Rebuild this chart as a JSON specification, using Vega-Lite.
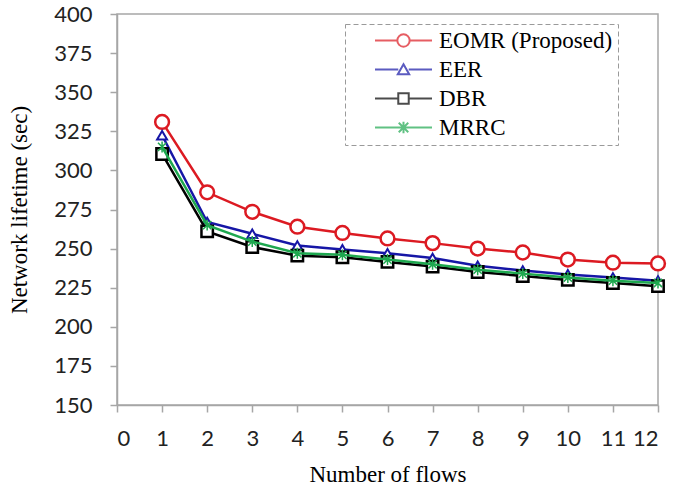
{
  "$schema": "https://vega.github.io/schema/vega-lite/v6.json",
  "autosize": "none",
  "width": 541,
  "height": 391,
  "padding": {"left": 117, "top": 14, "right": 22, "bottom": 84},
  "background": "white",
  "config": {
    "view": {"stroke": "#a6a6a6", "strokeWidth": 1.5},
    "legend": {"strokeDash": [5, 3]},
    "axis": {
      "grid": false,
      "domainColor": "#a6a6a6",
      "domainWidth": 1.5,
      "tickColor": "#a6a6a6",
      "tickWidth": 1.5,
      "tickSize": 7,
      "labelFont": "Lato",
      "labelFontSize": 22,
      "labelColor": "#222222",
      "titleFont": "Liberation Serif",
      "titleFontSize": 23,
      "titleFontWeight": "normal",
      "titleColor": "#000000"
    }
  },
  "data": {
    "values": [
      {"flows": 1, "series": "EOMR (Proposed)", "lifetime": 331},
      {"flows": 2, "series": "EOMR (Proposed)", "lifetime": 286},
      {"flows": 3, "series": "EOMR (Proposed)", "lifetime": 273.5},
      {"flows": 4, "series": "EOMR (Proposed)", "lifetime": 264},
      {"flows": 5, "series": "EOMR (Proposed)", "lifetime": 260},
      {"flows": 6, "series": "EOMR (Proposed)", "lifetime": 256.5},
      {"flows": 7, "series": "EOMR (Proposed)", "lifetime": 253.5},
      {"flows": 8, "series": "EOMR (Proposed)", "lifetime": 250},
      {"flows": 9, "series": "EOMR (Proposed)", "lifetime": 247.5},
      {"flows": 10, "series": "EOMR (Proposed)", "lifetime": 243},
      {"flows": 11, "series": "EOMR (Proposed)", "lifetime": 241},
      {"flows": 12, "series": "EOMR (Proposed)", "lifetime": 240.5},
      {"flows": 1, "series": "EER", "lifetime": 322.5},
      {"flows": 2, "series": "EER", "lifetime": 267},
      {"flows": 3, "series": "EER", "lifetime": 259.5},
      {"flows": 4, "series": "EER", "lifetime": 252},
      {"flows": 5, "series": "EER", "lifetime": 249.5},
      {"flows": 6, "series": "EER", "lifetime": 247},
      {"flows": 7, "series": "EER", "lifetime": 244},
      {"flows": 8, "series": "EER", "lifetime": 239},
      {"flows": 9, "series": "EER", "lifetime": 236},
      {"flows": 10, "series": "EER", "lifetime": 233.5},
      {"flows": 11, "series": "EER", "lifetime": 231.5},
      {"flows": 12, "series": "EER", "lifetime": 229.5},
      {"flows": 1, "series": "DBR", "lifetime": 310.5},
      {"flows": 2, "series": "DBR", "lifetime": 261},
      {"flows": 3, "series": "DBR", "lifetime": 251},
      {"flows": 4, "series": "DBR", "lifetime": 245.5},
      {"flows": 5, "series": "DBR", "lifetime": 244.5},
      {"flows": 6, "series": "DBR", "lifetime": 241.5},
      {"flows": 7, "series": "DBR", "lifetime": 238.5},
      {"flows": 8, "series": "DBR", "lifetime": 235},
      {"flows": 9, "series": "DBR", "lifetime": 232.5},
      {"flows": 10, "series": "DBR", "lifetime": 230},
      {"flows": 11, "series": "DBR", "lifetime": 228},
      {"flows": 12, "series": "DBR", "lifetime": 226},
      {"flows": 1, "series": "MRRC", "lifetime": 315},
      {"flows": 2, "series": "MRRC", "lifetime": 265},
      {"flows": 3, "series": "MRRC", "lifetime": 254.5},
      {"flows": 4, "series": "MRRC", "lifetime": 247},
      {"flows": 5, "series": "MRRC", "lifetime": 246},
      {"flows": 6, "series": "MRRC", "lifetime": 243},
      {"flows": 7, "series": "MRRC", "lifetime": 240},
      {"flows": 8, "series": "MRRC", "lifetime": 236.5},
      {"flows": 9, "series": "MRRC", "lifetime": 234},
      {"flows": 10, "series": "MRRC", "lifetime": 231.5},
      {"flows": 11, "series": "MRRC", "lifetime": 229.5},
      {"flows": 12, "series": "MRRC", "lifetime": 228}
    ]
  },
  "encoding": {
    "x": {
      "field": "flows", "type": "quantitative",
      "scale": {"domain": [0, 12], "nice": false},
      "axis": {"values": [0,1,2,3,4,5,6,7,8,9,10,11,12], "labelPadding": 16, "title": "Number of flows", "titlePadding": 14}
    },
    "y": {
      "field": "lifetime", "type": "quantitative",
      "scale": {"domain": [150, 400], "nice": false, "zero": false},
      "axis": {"values": [150,175,200,225,250,275,300,325,350,375,400], "labelPadding": 18, "title": "Network lifetime (sec)", "titlePadding": 22}
    }
  },
  "layer": [
    {
      "transform": [{"filter": "datum.series === 'EOMR (Proposed)'"}],
      "mark": {"type": "line", "color": "#dc1a22", "strokeWidth": 2.5,
        "point": {"shape": "circle", "filled": true, "fill": "white", "stroke": "#dc1a22", "strokeWidth": 2.5, "size": 190}}
    },
    {
      "transform": [{"filter": "datum.series === 'EER'"}],
      "mark": {"type": "line", "color": "#1616a6", "strokeWidth": 2.5,
        "point": {"shape": "triangle-up", "filled": true, "fill": "white", "stroke": "#1616a6", "strokeWidth": 2, "size": 100}}
    },
    {
      "transform": [{"filter": "datum.series === 'DBR'"}],
      "mark": {"type": "line", "color": "#000000", "strokeWidth": 2.5,
        "point": {"shape": "square", "filled": true, "fill": "white", "stroke": "#000000", "strokeWidth": 2.5, "size": 130}}
    },
    {
      "transform": [{"filter": "datum.series === 'MRRC'"}],
      "mark": {"type": "line", "color": "#1ea84f", "strokeWidth": 2.5,
        "point": {"shape": "M0,-1V1M-0.75,-0.75L0.75,0.75M-0.75,0.75L0.75,-0.75", "filled": false, "stroke": "#1ea84f", "strokeWidth": 1.5, "size": 120}}
    },
    {
      "mark": {"type": "point", "size": 0, "filled": false, "strokeWidth": 2},
      "encoding": {
        "color": {
          "field": "series", "type": "nominal",
          "scale": {"domain": ["EOMR (Proposed)", "EER", "DBR", "MRRC"], "range": ["#dc1a22", "#1616a6", "#000000", "#1ea84f"]},
          "legend": {
            "title": null,
            "orient": "none",
            "legendX": 228,
            "legendY": 10,
            "direction": "vertical",
            "fillColor": "white",
            "strokeColor": "#9a9a9a",
            "padding": 5,
            "rowPadding": 5,
            "symbolSize": 361,
            "symbolStrokeWidth": 2,
            "symbolOffset": 42,
            "labelOffset": 24,
            "labelFont": "Liberation Serif",
            "labelFontSize": 23,
            "labelColor": "#000000",
            "labelLimit": 400,
            "encode": {"legend": {"update": {"strokeDash": {"value": [5, 3]}, "strokeWidth": {"value": 1.5}}}}
          }
        },
        "shape": {
          "field": "series", "type": "nominal",
          "scale": {"domain": ["EOMR (Proposed)", "EER", "DBR", "MRRC"], "range": [
            "M-3,0H-0.65M0.65,0H3M0.65,0A0.65,0.65 0 1 1 -0.65,0A0.65,0.65 0 1 1 0.65,0",
            "M-3,0H-0.55M0.55,0H3M0,-0.55L0.6,0.5L-0.6,0.5Z",
            "M-3,0H-0.55M0.55,0H3M-0.55,-0.55H0.55V0.55H-0.55Z",
            "M-3,0H3M0,-0.6V0.6M-0.5,-0.5L0.5,0.5M-0.5,0.5L0.5,-0.5"
          ]}
        }
      }
    }
  ]
}
